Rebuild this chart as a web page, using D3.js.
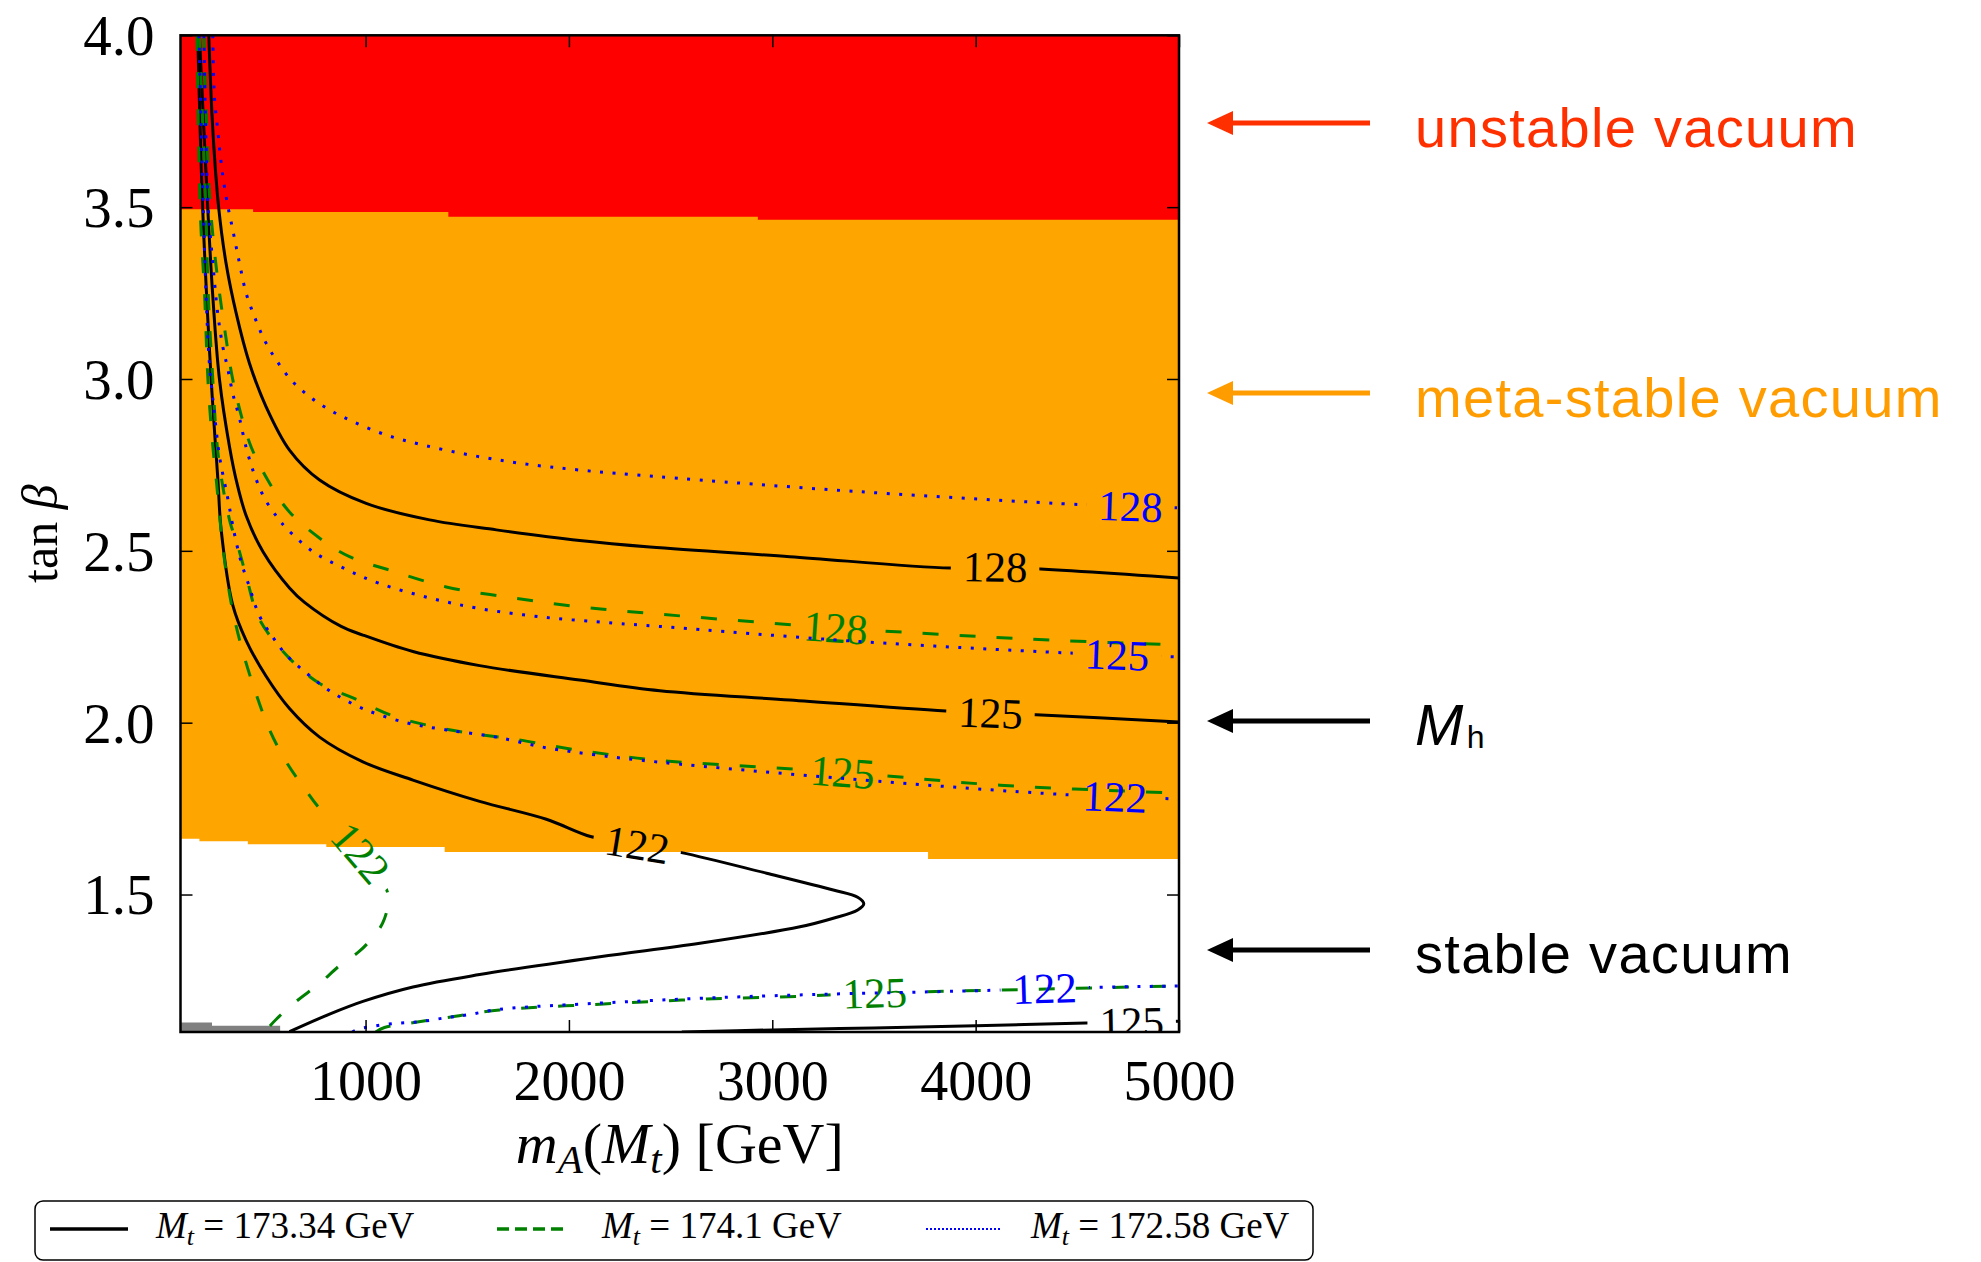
<!DOCTYPE html>
<html>
<head>
<meta charset="utf-8">
<script src="https://d3js.org/d3.v7.min.js"></script>
<style>
  body { margin: 0; background: #fff; }
  text { font-family: "Liberation Serif", "DejaVu Serif", serif; }
  .note { font-family: "Liberation Sans", Arial, sans-serif; }
</style>
</head>
<body>
<script>
// tick values
var xTicks = [1000, 2000, 3000, 4000, 5000];
var yTicks = [1.5, 2.0, 2.5, 3.0, 3.5, 4.0];

// vacuum regions: step boundaries (m_A [GeV], tan beta)
var redEdgeX = [90, 447, 1407, 2929, 5000];
var redEdgeY = [3.494, 3.486, 3.472, 3.463, 3.463];
var orangeEdgeX = [90, 183, 421, 807, 1389, 3766, 5000];
var orangeEdgeY = [1.662, 1.655, 1.646, 1.638, 1.624, 1.603, 1.603];
var grayEdgeX = [90, 245, 580];
var grayEdgeY = [1.128, 1.118, 1.118];

// M_h contours, Mt = 173.34 GeV
var mt17334_128 = [[229,4.0],[249,3.724],[278,3.497],[314,3.337],[364,3.191],[429,3.046],[511,2.919],[626,2.793],[774,2.706],[1003,2.638],[1315,2.590],[1643,2.561],[2053,2.530],[2398,2.511],[3086,2.483],[3874,2.450],[4095,2.453],[5000,2.421]];
var mt17334_125 = [[183,4.0],[224,3.497],[249,3.239],[282,2.997],[331,2.803],[364,2.706],[413,2.602],[495,2.498],[626,2.392],[700,2.350],[880,2.280],[987,2.255],[1233,2.207],[1561,2.166],[2053,2.124],[2447,2.093],[3086,2.066],[3854,2.034],[4297,2.023],[5000,2.002]];
var mt17334_122 = [[175,4.0],[199,3.497],[241,2.997],[274,2.706],[290,2.561],[347,2.342],[413,2.239],[511,2.135],[626,2.041],[774,1.958],[987,1.886],[1233,1.833],[1561,1.771],[1889,1.719],[2111,1.668],[2334,1.645],[2554,1.622],[2972,1.562],[3300,1.513],[3420,1.492],[3450,1.473],[3420,1.455],[3300,1.431],[3136,1.406],[2644,1.358],[2152,1.319],[1561,1.267],[1233,1.231],[987,1.189],[823,1.152],[626,1.101]];
var mt17334_125low = [[2555,1.100],[3000,1.106],[3500,1.112],[4000,1.118],[4543,1.126],[5000,1.131]];

// Mt = 174.1 GeV
var mt1741_128 = [[205,4.0],[218,3.756],[232,3.542],[265,3.329],[314,3.118],[344,3.007],[386,2.900],[437,2.803],[519,2.706],[626,2.613],[790,2.530],[921,2.483],[1134,2.441],[1397,2.395],[1725,2.363],[2053,2.337],[2381,2.319],[3308,2.276],[4268,2.243],[5000,2.226]];
var mt1741_125 = [[183,4.0],[213,3.521],[227,3.239],[247,3.017],[271,2.803],[301,2.677],[335,2.581],[369,2.520],[413,2.427],[478,2.301],[626,2.187],[774,2.114],[938,2.072],[1134,2.020],[1331,1.989],[1528,1.968],[1725,1.953],[1971,1.927],[2217,1.906],[2447,1.890],[3342,1.856],[4120,1.818],[5000,1.795]];
var mt1741_122 = [[171,4.0],[187,3.492],[209,3.239],[225,2.997],[249,2.803],[266,2.706],[291,2.550],[315,2.436],[348,2.322],[396,2.207],[462,2.083],[528,1.979],[610,1.886],[708,1.802],[774,1.750],[970,1.625],[1093,1.528],[1113,1.485],[1085,1.418],[1036,1.376],[970,1.335],[872,1.293],[774,1.241],[659,1.189],[561,1.137],[503,1.100]];
var mt1741_125low = [[1050,1.100],[1093,1.113],[1231,1.127],[1413,1.143],[1659,1.164],[2152,1.181],[2644,1.195],[3136,1.204],[3500,1.213],[4120,1.222],[5000,1.234]];

// Mt = 172.58 GeV
var mt17258_128 = [[249,4.0],[257,3.821],[273,3.724],[290,3.628],[314,3.530],[347,3.434],[380,3.337],[413,3.249],[454,3.181],[503,3.113],[561,3.055],[634,2.997],[724,2.949],[823,2.910],[938,2.876],[1102,2.837],[1282,2.808],[1512,2.779],[1758,2.755],[2053,2.735],[2430,2.716],[3431,2.672],[4538,2.634],[5000,2.625]];
var mt17258_125 = [[205,4.0],[214,3.724],[227,3.492],[249,3.337],[273,3.191],[298,3.094],[322,3.031],[347,2.958],[380,2.886],[413,2.800],[454,2.721],[503,2.653],[569,2.595],[610,2.566],[741,2.498],[905,2.446],[1069,2.405],[1315,2.363],[1561,2.332],[1889,2.306],[2217,2.290],[2447,2.280],[3431,2.236],[4450,2.203],[5000,2.191]];
var mt17258_122 = [[181,4.0],[192,3.724],[203,3.482],[216,3.239],[232,3.046],[257,2.900],[282,2.774],[322,2.654],[355,2.550],[388,2.468],[429,2.395],[478,2.311],[544,2.249],[610,2.197],[708,2.145],[823,2.093],[987,2.041],[1200,2.000],[1397,1.979],[1643,1.958],[1889,1.927],[2135,1.906],[2447,1.885],[3382,1.836],[4460,1.790],[5000,1.778]];
var mt17258_122low = [[935,1.100],[962,1.108],[1020,1.115],[1143,1.125],[1266,1.130],[1389,1.141],[1502,1.150],[1659,1.166],[2152,1.184],[2644,1.198],[3136,1.208],[4120,1.222],[4336,1.227],[5000,1.234]];

var mtValues = ["173.34", "174.1", "172.58"];

// contour list: Mt, M_h level, points, m_A where the inline label sits
var contours = [
  {mt: "173.34", level: 128, pts: mt17334_128, labelAt: 4095},
  {mt: "173.34", level: 125, pts: mt17334_125, labelAt: 4071},
  {mt: "173.34", level: 122, pts: mt17334_122, labelAt: 2334},
  {mt: "173.34", level: 125, pts: mt17334_125low, labelAt: 4765},
  {mt: "174.1", level: 128, pts: mt1741_128, labelAt: 3308},
  {mt: "174.1", level: 125, pts: mt1741_125, labelAt: 3342},
  {mt: "174.1", level: 122, pts: mt1741_122, labelAt: 975},
  {mt: "174.1", level: 125, pts: mt1741_125low, labelAt: 3500},
  {mt: "172.58", level: 128, pts: mt17258_128, labelAt: 4760},
  {mt: "172.58", level: 125, pts: mt17258_125, labelAt: 4691},
  {mt: "172.58", level: 122, pts: mt17258_122, labelAt: 4681},
  {mt: "172.58", level: 122, pts: mt17258_122low, labelAt: 4336}
];

var lineStyle = {
  "173.34": {color: "#000000", width: 3, dash: null},
  "174.1":  {color: "#008000", width: 3, dash: "16,21"},
  "172.58": {color: "#0000ff", width: 3, dash: "3,9.5"}
};

var W = 1981, H = 1262;
var box = {left: 180.5, right: 1179, top: 35.3, bottom: 1032};

var svg = d3.select("body").append("svg")
    .attr("width", W)
    .attr("height", H);
var defs = svg.append("defs");

var x = d3.scaleLinear().domain([90, 5000]).range([box.left, box.right]);
var y = d3.scaleLinear().domain([1.1, 4.0]).range([box.bottom, box.top]);

defs.append("clipPath").attr("id", "plotclip")
  .append("rect")
    .attr("x", box.left).attr("y", box.top)
    .attr("width", box.right - box.left).attr("height", box.bottom - box.top);

var plot = svg.append("g").attr("clip-path", "url(#plotclip)");

function zip(a, b) { return a.map(function(v, i) { return [v, b[i]]; }); }

// orange (meta-stable) below red (unstable)
plot.append("path")
  .datum(zip(orangeEdgeX, orangeEdgeY))
  .attr("fill", "#ffa500")
  .attr("d", d3.area().curve(d3.curveStepAfter)
    .x(function(d) { return x(d[0]); })
    .y0(function(d) { return y(d[1]); })
    .y1(y(4.0)));

plot.append("path")
  .datum(zip(redEdgeX, redEdgeY))
  .attr("fill", "#ff0000")
  .attr("d", d3.area().curve(d3.curveStepAfter)
    .x(function(d) { return x(d[0]); })
    .y0(function(d) { return y(d[1]); })
    .y1(y(4.0)));

plot.append("path")
  .datum(zip(grayEdgeX, grayEdgeY))
  .attr("fill", "#808080")
  .attr("d", d3.area().curve(d3.curveStepAfter)
    .x(function(d) { return x(d[0]); })
    .y0(y(1.1))
    .y1(function(d) { return y(d[1]); }));

var line = d3.line()
    .x(function(d) { return x(d[0]); })
    .y(function(d) { return y(d[1]); })
    .curve(d3.curveCatmullRom.alpha(0.5));

// contour lines with inline labels (gap cut with a mask)
contours.forEach(function(c, i) {
  var st = lineStyle[c.mt];
  var path = plot.append("path")
    .attr("d", line(c.pts))
    .attr("fill", "none")
    .attr("stroke", st.color)
    .attr("stroke-width", st.width)
    .attr("stroke-dasharray", st.dash);

  var node = path.node(), total = node.getTotalLength();
  var tx = x(c.labelAt), prev = node.getPointAtLength(0), L = 0;
  for (var l = 1; l <= total; l += 1) {
    var p = node.getPointAtLength(l);
    if ((prev.x - tx) * (p.x - tx) <= 0) { L = l; break; }
    prev = p;
  }
  var at = node.getPointAtLength(L);
  var p1 = node.getPointAtLength(Math.max(0, L - 12));
  var p2 = node.getPointAtLength(Math.min(total, L + 12));
  var ang = Math.atan2(p2.y - p1.y, p2.x - p1.x) * 180 / Math.PI;
  if (ang > 90) ang -= 180;
  if (ang < -90) ang += 180;

  var label = plot.append("text")
    .attr("transform", "translate(" + at.x + "," + at.y + ") rotate(" + ang + ")")
    .attr("text-anchor", "middle")
    .attr("dy", "0.34em")
    .attr("font-size", 43)
    .attr("fill", st.color)
    .text(c.level);
  var tw = label.node().getComputedTextLength();

  var mask = defs.append("mask").attr("id", "gap" + i)
    .attr("maskUnits", "userSpaceOnUse")
    .attr("x", 0).attr("y", 0).attr("width", W).attr("height", H);
  mask.append("rect").attr("width", W).attr("height", H).attr("fill", "#fff");
  mask.append("rect")
    .attr("transform", "translate(" + at.x + "," + at.y + ") rotate(" + ang + ")")
    .attr("x", -(tw + 24) / 2).attr("y", -17)
    .attr("width", tw + 24).attr("height", 34)
    .attr("fill", "#000");
  path.attr("mask", "url(#gap" + i + ")");
});

// axes, ticks pointing inward on all four sides
var fmtY = d3.format(".1f");

var gx = svg.append("g")
    .attr("transform", "translate(0," + box.bottom + ")")
    .call(d3.axisBottom(x).tickValues(xTicks).tickSizeInner(-12).tickSizeOuter(0).tickFormat(d3.format("d")));
gx.selectAll("text").attr("y", 68).attr("dy", null).attr("font-size", 56).attr("fill", "#000");

svg.append("g")
    .attr("transform", "translate(0," + box.top + ")")
    .call(d3.axisTop(x).tickValues(xTicks).tickSizeInner(-12).tickSizeOuter(0).tickFormat(""));

var gy = svg.append("g")
    .attr("transform", "translate(" + box.left + ",0)")
    .call(d3.axisLeft(y).tickValues(yTicks).tickSizeInner(-12).tickSizeOuter(0).tickFormat(fmtY));
gy.selectAll("text").attr("x", -26).attr("dy", "0.34em").attr("font-size", 57).attr("fill", "#000");

svg.append("g")
    .attr("transform", "translate(" + box.right + ",0)")
    .call(d3.axisRight(y).tickValues(yTicks).tickSizeInner(-12).tickSizeOuter(0).tickFormat(""));

svg.selectAll(".domain").remove();
svg.selectAll(".tick line").attr("stroke", "#000").attr("stroke-width", 1.5);

svg.append("rect")
    .attr("x", box.left).attr("y", box.top)
    .attr("width", box.right - box.left).attr("height", box.bottom - box.top)
    .attr("fill", "none").attr("stroke", "#000").attr("stroke-width", 2.5);

// axis titles
var xt = svg.append("text")
    .attr("x", (box.left + box.right) / 2).attr("y", 1163)
    .attr("text-anchor", "middle").attr("font-size", 58)
    .style("white-space", "pre");
xt.append("tspan").attr("font-style", "italic").text("m");
xt.append("tspan").attr("font-style", "italic").attr("font-size", 41).attr("dy", 10).text("A");
xt.append("tspan").attr("dy", -10).text("(");
xt.append("tspan").attr("font-style", "italic").text("M");
xt.append("tspan").attr("font-style", "italic").attr("font-size", 41).attr("dy", 10).text("t");
xt.append("tspan").attr("dy", -10).text(") [GeV]");

var yt = svg.append("text")
    .attr("transform", "translate(57," + ((box.top + box.bottom) / 2) + ") rotate(-90)")
    .attr("text-anchor", "middle").attr("font-size", 50)
    .style("white-space", "pre");
yt.append("tspan").text("tan ");
yt.append("tspan").attr("font-style", "italic").text("β");

// legend
var legend = svg.append("g");
legend.append("rect")
    .attr("x", 35).attr("y", 1201).attr("width", 1278).attr("height", 59)
    .attr("rx", 8).attr("fill", "#fff").attr("stroke", "#000").attr("stroke-width", 1.5);

var legendSample = {"173.34": {x0: 50, x1: 128, w: 3.5, dash: null},
                    "174.1":  {x0: 497, x1: 564, w: 3.5, dash: "12,6"},
                    "172.58": {x0: 926, x1: 1000, w: 2, dash: "2,2"}};
var legendTextX = {"173.34": 156, "174.1": 602, "172.58": 1031};

mtValues.forEach(function(mt) {
  var s = legendSample[mt];
  legend.append("line")
    .attr("x1", s.x0).attr("x2", s.x1).attr("y1", 1229).attr("y2", 1229)
    .attr("stroke", lineStyle[mt].color).attr("stroke-width", s.w)
    .attr("stroke-dasharray", s.dash);
  var t = legend.append("text")
    .attr("x", legendTextX[mt]).attr("y", 1238)
    .attr("font-size", 37).style("white-space", "pre");
  t.append("tspan").attr("font-style", "italic").text("M");
  t.append("tspan").attr("font-style", "italic").attr("font-size", 26).attr("dy", 7).text("t");
  t.append("tspan").attr("dy", -7).text(" = " + mt + " GeV");
});

// annotations on the right
var notes = [
  {text: "unstable vacuum", ay: 123, ty: 147, color: "#ff3000"},
  {text: "meta-stable vacuum", ay: 393, ty: 417, color: "#ff9c00"},
  {text: null, ay: 721, ty: 745, color: "#000"},
  {text: "stable vacuum", ay: 950, ty: 973, color: "#000"}
];

notes.forEach(function(n) {
  svg.append("line")
    .attr("x1", 1228).attr("x2", 1370).attr("y1", n.ay).attr("y2", n.ay)
    .attr("stroke", n.color).attr("stroke-width", 5);
  svg.append("path")
    .attr("d", "M1207," + n.ay + "L1233," + (n.ay - 12) + "L1233," + (n.ay + 12) + "Z")
    .attr("fill", n.color);
  var t = svg.append("text").attr("class", "note")
    .attr("x", 1415).attr("y", n.ty)
    .attr("font-size", 56).attr("fill", n.color)
    .attr("letter-spacing", 1.3);
  if (n.text) {
    t.text(n.text);
  } else {
    t.append("tspan").attr("font-style", "italic").attr("font-size", 58).text("M");
    t.append("tspan").attr("font-size", 32).attr("dy", 3).attr("dx", 2).text("h");
  }
});
</script>
</body>
</html>
